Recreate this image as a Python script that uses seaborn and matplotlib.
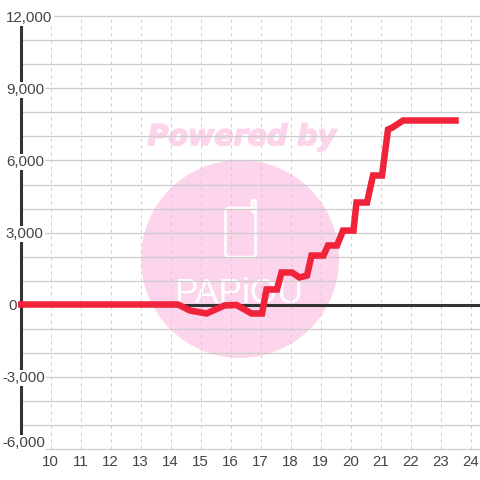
import numpy as np
import pandas as pd
import matplotlib
matplotlib.use("Agg")
import matplotlib.pyplot as plt
import matplotlib.patheffects as pe
import seaborn as sns
from matplotlib.patches import Circle, FancyBboxPatch
from matplotlib.ticker import MultipleLocator
from matplotlib.transforms import IdentityTransform, ScaledTranslation

# values
hours = [9.0, 14.25, 14.65, 15.2, 15.8, 16.2, 16.7, 17.05, 17.2, 17.55, 17.7, 18.05, 18.3, 18.55,
         18.7, 19.1, 19.25, 19.55, 19.75, 20.1, 20.2, 20.55, 20.75, 21.05, 21.25, 21.4, 21.75, 23.5]
values = [0, 0, -250, -375, -40, -20, -375, -375, 625, 625, 1333, 1333, 1125, 1208,
          2040, 2040, 2458, 2458, 3080, 3080, 4250, 4250, 5375, 5375, 7290, 7375, 7667, 7667]
x_ticks = [10, 11, 12, 13, 14, 15, 16, 17, 18, 19, 20, 21, 22, 23, 24]
y_ticks = [-6000, -3000, 0, 3000, 6000, 9000, 12000]
y_labels = ["-6,000", "-3,000", "0", "3,000", "6,000", "9,000", "12,000"]

sns.set_style("white")
plt.rcParams['font.family'] = ['Liberation Sans', 'DejaVu Sans']

GRID = "#cccccc"
DARK = "#333333"
TEXT = "#444444"
PINK = "#fcd5ec"

fig = plt.figure(figsize=(4.8, 4.8), dpi=100)
ax = fig.add_axes([20.5 / 480, 31.5 / 480, 459.5 / 480, 432 / 480])

df = pd.DataFrame({"hour": hours, "value": values})
sns.lineplot(data=df, x="hour", y="value", ax=ax, color="#f0233a", linewidth=4.7,
             errorbar=None, estimator=None, sort=False, zorder=3, clip_on=False,
             solid_capstyle="projecting", solid_joinstyle="miter")

ax.set_xlim(9, 9 + 459.5 / 30)
ax.set_ylim(-6000, 12000)
ax.set_xlabel("")
ax.set_ylabel("")
ax.set_xticks(x_ticks)
ax.set_yticks(y_ticks)
ax.set_yticklabels([])
ax.yaxis.set_minor_locator(MultipleLocator(1000))
ax.set_axisbelow(True)
ax.grid(True, axis="y", which="both", color=GRID, linewidth=0.9)
ax.grid(True, axis="x", which="major", color=GRID, linewidth=0.72, linestyle=(0, (3, 4)))
ax.tick_params(axis="both", which="both", length=0)
ax.tick_params(axis="x", labelsize=10.8, labelcolor=TEXT, pad=5)
for t in ax.yaxis.get_major_ticks() + ax.yaxis.get_minor_ticks():
    t.gridline.set_clip_on(False)

for s in ["top", "right", "bottom"]:
    ax.spines[s].set_visible(False)
ax.spines["left"].set_color(DARK)
ax.spines["left"].set_linewidth(2.2)
ax.spines["left"].set_zorder(1)
ax.axhline(0, color=DARK, linewidth=2.2, zorder=1)

# watermark, placed in pixels
px = IdentityTransform()
ax.add_patch(Circle((240, 221), 99, transform=px, facecolor=PINK, edgecolor="none", zorder=0.1))
ax.add_patch(FancyBboxPatch((225.5, 223), 30, 49, boxstyle="round,pad=0,rounding_size=3.5", transform=px,
                            facecolor="none", edgecolor="white", linewidth=1.8, zorder=0.2))
ax.add_patch(FancyBboxPatch((252, 268), 3.5, 12, boxstyle="round,pad=0,rounding_size=1.7", transform=px,
                            facecolor="none", edgecolor="white", linewidth=1.8, zorder=0.2))
ax.text(242, 335, "Powered by", transform=px, ha="center", va="baseline", color=PINK, fontsize=20.5,
        fontweight="bold", fontstyle="italic", family="DejaVu Sans", zorder=0.2,
        path_effects=[pe.withStroke(linewidth=1.2, foreground=PINK)])
ax.text(239, 177, "PAPiOU", transform=px, ha="center", va="baseline", color="white", fontsize=25.5,
        family="Liberation Sans", zorder=0.2)

# y labels sit on top of the axis line, so they go on a twin drawn later
ax2 = ax.twinx()
ax2.set_ylim(-6000, 12000)
ax2.yaxis.tick_left()
ax2.set_yticks(y_ticks)
ax2.set_yticklabels(y_labels)
ax2.grid(False)
ax2.tick_params(axis="y", length=0, pad=10.5, labelsize=10.8, labelcolor=TEXT)
for s in ax2.spines.values():
    s.set_visible(False)
for lab, v in zip(ax2.get_yticklabels(), y_ticks):
    lab.set_ha("left")
    lab.set_bbox(dict(facecolor="white", edgecolor="none", pad=1.0))
    # label offsets in the original: negatives hang left, the bottom one is nudged up
    dx, dy = 0, 0
    if v < 0:
        dx = -4
    if v == 0:
        dx = 2
    if v == -6000:
        dy = 7
    if dx or dy:
        lab.set_transform(lab.get_transform() + ScaledTranslation(dx / 100, dy / 100, fig.dpi_scale_trans))

fig.savefig("out.png", dpi=100)
